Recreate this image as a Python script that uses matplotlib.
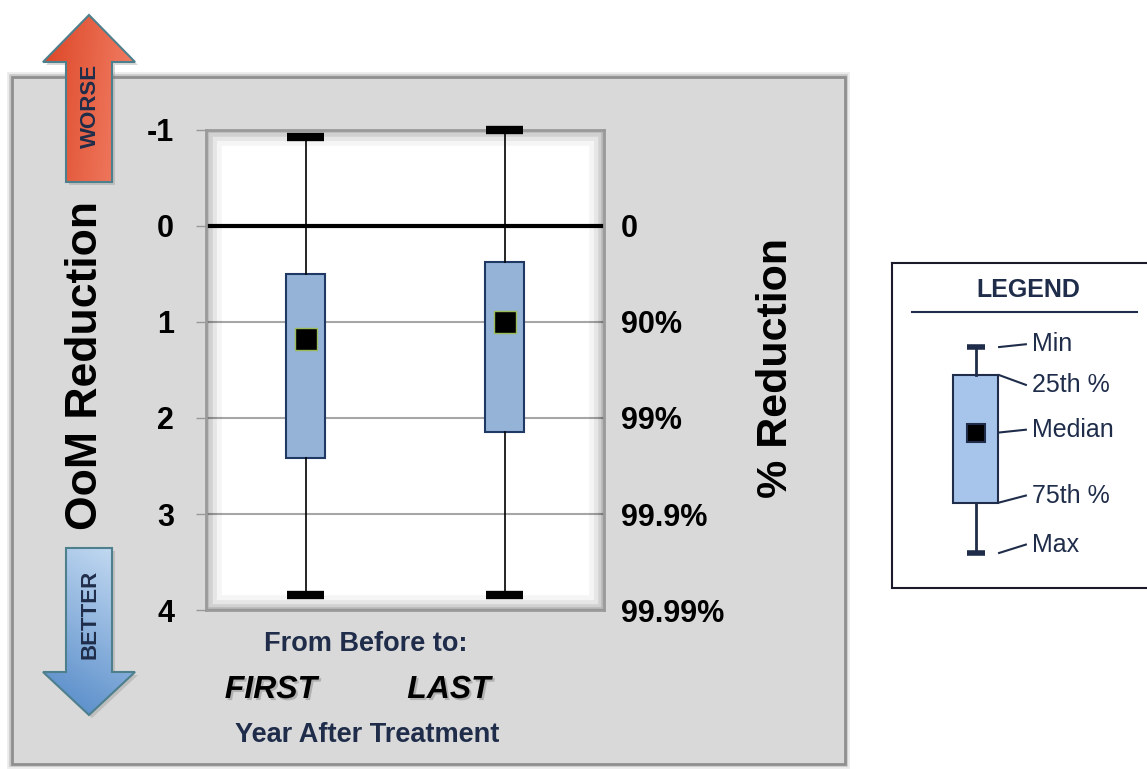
import numpy as np
import matplotlib
matplotlib.use('Agg')
import matplotlib.pyplot as plt
import matplotlib.patheffects as pe
from matplotlib.patches import Rectangle, Polygon
from matplotlib.colors import LinearSegmentedColormap

plt.rcParams['font.family'] = ['Liberation Sans', 'DejaVu Sans']

# Box plot values in orders of magnitude (OoM) of reduction
groups = ['FIRST', 'LAST']
oom_min = [-0.93, -1.0]
oom_q25 = [0.50, 0.375]
oom_median = [1.18, 1.0]
oom_q75 = [2.42, 2.15]
oom_max = [3.84, 3.84]

oom_ticks = [-1, 0, 1, 2, 3, 4]
pct_ticks = [0, 1, 2, 3, 4]
pct_labels = ['0', '90%', '99%', '99.9%', '99.99%']

# Legend schematic (arbitrary units)
legend_stats = [0, 1, 3.05, 5.55, 7.35]
legend_names = ['Min', '25th %', 'Median', '75th %', 'Max']
legend_label_y = [-0.1, 1.35, 2.95, 5.3, 7.05]

W, H = 1147, 769
fig = plt.figure(figsize=(W / 100, H / 100), dpi=100)
navy = '#1f2d4a'

# Background axes in pixel coordinates for the decoration
bg = fig.add_axes([0, 0, 1, 1], zorder=0)
bg.axis('off')

# gray panel with a soft dark rim
px0, py0, px1, py1 = 12, 77, 845, 764
for lw, a in [(7, 0.08), (4, 0.15)]:
    bg.add_patch(Rectangle((px0, py0), px1 - px0, py1 - py0, fc='none', ec='black',
                           lw=lw, alpha=a, zorder=1))
bg.add_patch(Rectangle((px0, py0), px1 - px0, py1 - py0, fc='#d9d9d9', ec='#8f8f8f',
                       lw=2, zorder=1))


def grad_arrow(pts, colors, ax_w, ax_h):
    shadow = Polygon([(x + 3, y + 3) for x, y in pts], closed=True, fc='#808080',
                     ec='none', alpha=0.3, zorder=2)
    bg.add_patch(shadow)
    poly = Polygon(pts, closed=True, fc='none', ec='#4d7f8c', lw=1.5, zorder=4)
    bg.add_patch(poly)
    xs = [p[0] for p in pts]
    ys = [p[1] for p in pts]
    g = np.linspace(0, 1, 200)
    grid = np.add.outer(g * ax_h, g * ax_w)
    cmap = LinearSegmentedColormap.from_list('g', colors)
    im = bg.imshow(grid, extent=(min(xs), max(xs), max(ys), min(ys)), cmap=cmap,
                   aspect='auto', zorder=3, interpolation='bilinear')
    im.set_clip_path(poly)


grad_arrow([(66, 182), (66, 62), (43, 62), (89, 15), (135, 62), (112, 62), (112, 182)],
           ['#dc4525', '#f3836a'], 1.0, 0.2)
grad_arrow([(66, 548), (66, 672), (43, 672), (89, 715), (135, 672), (112, 672), (112, 548)],
           ['#c9def4', '#4f86c6'], -0.35, 1.0)

bg.text(90, 106, 'WORSE', rotation=90, ha='center', va='center', fontsize=16,
        weight='bold', color=navy, zorder=5)
bg.text(90, 614, 'BETTER', rotation=90, ha='center', va='center', fontsize=16,
        weight='bold', color=navy, zorder=5)

bg.text(86, 366, 'OoM Reduction', rotation=90, ha='center', va='center',
        fontsize=32, weight='bold', color='black', zorder=5)
bg.text(776, 368, '% Reduction', rotation=90, ha='center', va='center',
        fontsize=31, weight='bold', color='black', zorder=5)

bg.text(366, 644, 'From Before to:', ha='center', va='center', fontsize=19.5,
        weight='bold', color=navy, zorder=5)
bg.text(367, 735, 'Year After Treatment', ha='center', va='center', fontsize=19.5,
        weight='bold', color=navy, zorder=5)
shadow_fx = [pe.SimplePatchShadow(offset=(1.5, -1.5), shadow_rgbFace='#666666', alpha=0.35),
             pe.Normal()]
bg.text(271, 690, 'FIRST', ha='center', va='center', fontsize=23, weight='bold',
        style='italic', color='black', zorder=5, path_effects=shadow_fx)
bg.text(449, 690, 'LAST', ha='center', va='center', fontsize=23, weight='bold',
        style='italic', color='black', zorder=5, path_effects=shadow_fx)

bg.set_xlim(0, W)
bg.set_ylim(H, 0)

# Main box plot
ax = fig.add_axes([206 / W, 1 - 610 / H, 398 / W, 480 / H], zorder=2)
positions = np.arange(1, len(groups) + 1)
stats = [dict(whislo=lo, q1=a, med=m, q3=b, whishi=hi)
         for lo, a, m, b, hi in zip(oom_min, oom_q25, oom_median, oom_q75, oom_max)]
parts = ax.bxp(stats, positions=positions, widths=0.2, capwidths=0.186,
               patch_artist=True, showfliers=False,
               boxprops=dict(facecolor='#95b3d7', edgecolor='#1f3864', lw=1.5),
               whiskerprops=dict(color='black', lw=1.2),
               capprops=dict(color='black', lw=6, solid_capstyle='butt'),
               medianprops=dict(visible=False), zorder=3)
for c in parts['caps']:
    c.set_clip_on(False)
ax.plot(positions, oom_median, 's', ms=16, mfc='black', mec='#9bbb59', mew=1, zorder=4)

ax.axhline(0, color='black', lw=3, zorder=2)
ax.set_xlim(0.5, 2.5)
ax.set_ylim(4, -1)
ax.set_yticks(oom_ticks)
ax.set_yticklabels([str(t) for t in oom_ticks], fontsize=22, weight='bold')
ax.tick_params(axis='y', length=7, color='#999999', width=1, pad=16)
ax.set_xticks([])
ax.yaxis.grid(True, color='#a6a6a6', lw=1.5)
ax.set_axisbelow(True)
for s in ax.spines.values():
    s.set_color('#9a9a9a')
    s.set_linewidth(2)
# soft inner shadow of the plot area
for lw, a in [(22, 0.04), (15, 0.06), (9, 0.09), (4, 0.12)]:
    ax.add_patch(Rectangle((0, 0), 1, 1, transform=ax.transAxes, fill=False,
                           ec='black', lw=lw, alpha=a, clip_on=True, zorder=1))

ax2 = ax.twinx()
ax2.set_ylim(4, -1)
ax2.set_yticks(pct_ticks)
ax2.set_yticklabels(pct_labels, fontsize=22, weight='bold')
ax2.tick_params(axis='y', length=0, pad=12)
for s in ax2.spines.values():
    s.set_visible(False)

# Legend
lg = fig.add_axes([892 / W, 1 - 588 / H, (W - 892) / W, 325 / H], zorder=2)
lg.set_xlim(0, 1)
lg.set_ylim(8.6, -3.0)
lg.set_xticks([])
lg.set_yticks([])
lg.spines['right'].set_visible(False)
for k in ['left', 'top', 'bottom']:
    lg.spines[k].set_color('#1a1a2a')
    lg.spines[k].set_linewidth(1.5)
lo, a, m, b, hi = legend_stats
lg.bxp([dict(whislo=lo, q1=a, med=m, q3=b, whishi=hi)], positions=[0.329], widths=0.176,
       capwidths=0.07, patch_artist=True, showfliers=False,
       boxprops=dict(facecolor='#a7c4ea', edgecolor=navy, lw=1.5),
       whiskerprops=dict(color=navy, lw=2),
       capprops=dict(color=navy, lw=4, solid_capstyle='butt'),
       medianprops=dict(visible=False), manage_ticks=False)
lg.plot([0.329], [m], 's', ms=13, mfc='black', mec=navy, mew=1.5)
for val, name, ly in zip(legend_stats, legend_names, legend_label_y):
    lg.plot([0.42, 0.525], [val, ly], color=navy, lw=1.5)
    lg.text(0.55, ly, name, ha='left', va='center', fontsize=18, color=navy)
lg.text(0.533, -2.05, 'LEGEND', ha='center', va='center', fontsize=18,
        weight='bold', color=navy)
lg.plot([0.078, 0.96], [-1.25, -1.25], color=navy, lw=1.5)

fig.savefig('out.png', dpi=100, facecolor='white')
